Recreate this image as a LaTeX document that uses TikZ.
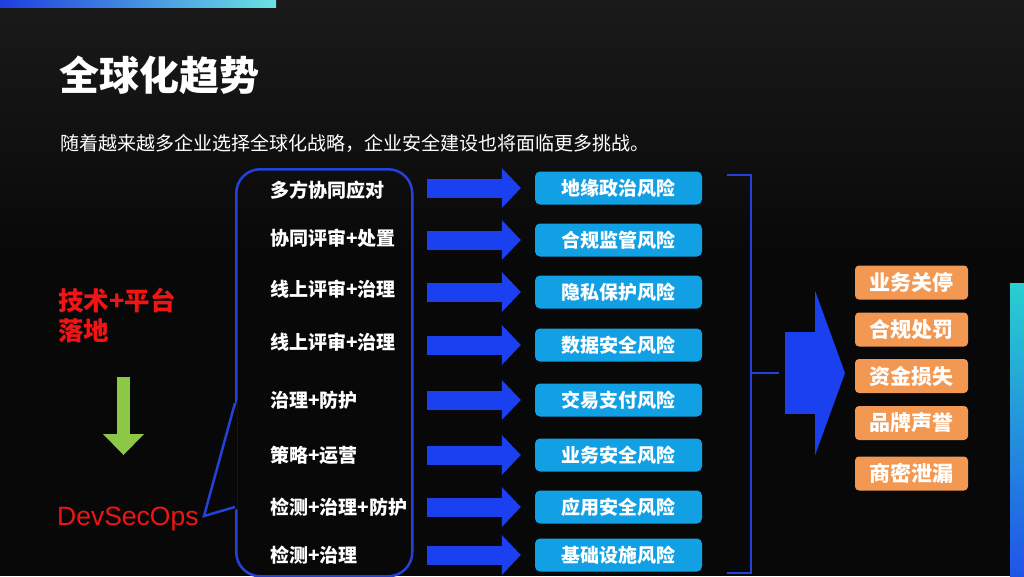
\documentclass[tikz,border=0pt]{standalone}
\usepackage{fontspec}
\setmainfont{Noto Sans CJK SC}
\newfontfamily\latinfont{Liberation Sans}
\usepackage{xcolor}
\usepackage{tikz}
\usetikzlibrary{positioning,arrows.meta}
\definecolor{bgdark}{RGB}{8,8,8}
\definecolor{bgtop}{RGB}{26,26,26}
\definecolor{barblue}{RGB}{30,62,225}
\definecolor{barcyan}{RGB}{108,226,226}
\definecolor{arrblue}{RGB}{26,64,240}
\definecolor{lineblue}{RGB}{36,66,215}
\definecolor{riskc}{RGB}{18,160,228}
\definecolor{lossc}{RGB}{242,152,82}
\definecolor{redtxt}{RGB}{240,20,20}
\definecolor{greenarr}{RGB}{140,200,70}
\definecolor{sidecyan}{RGB}{40,208,208}
\definecolor{sideblue}{RGB}{32,84,232}
\newcommand{\fs}[1]{\fontsize{#1}{#1}\selectfont}
\tikzset{
  riskbox/.style={fill=riskc,rounded corners=5pt,minimum width=167pt,minimum height=33pt,text=white,font=\fs{19}\bfseries,inner sep=0pt},
  lossbox/.style={fill=lossc,rounded corners=4pt,minimum width=113pt,minimum height=34pt,text=white,font=\fs{21}\bfseries,inner sep=0pt},
  bigar/.style={-{Triangle[length=30pt,width=165pt,line width=0pt]},line width=82pt,arrblue},
  garrow/.style={-{Triangle[length=21pt,width=41pt,line width=0pt]},line width=13pt,greenarr},
  brk/.style={lineblue,line width=1.2pt},
}

\begin{document}
\begin{tikzpicture}[x=1pt,y=-1pt,
  itm/.style={anchor=west,text=white,font=\fs{19}\bfseries,inner sep=0pt},
  ar/.style={-{Triangle[length=19pt,width=40pt,line width=0pt]},line width=19pt,arrblue}]
  \useasboundingbox (0,0) rectangle (1024,576);
  \fill[bgdark] (0,0) rectangle (1024,576);
  \shade[top color=bgtop,bottom color=bgdark] (0,0) rectangle (1024,260);
  \shade[left color=barblue,right color=barcyan] (0,0) rectangle (276,7);
  \shade[top color=sidecyan,bottom color=sideblue] (1010,283) rectangle (1024,576);
  % heading
  \node[anchor=west,text=white,font=\fs{40}\bfseries,inner sep=0pt] (title) at (59,75.5) {全球化趋势};
  \node[anchor=west,text=white,font=\fs{19},inner sep=0pt] (sub) at (60,143.5)
    {随着越来越多企业选择全球化战略，企业安全建设也将面临更多挑战。};
  % left column
  \node[anchor=west,align=left,text=redtxt,font=\fontsize{25.5}{30}\selectfont\bfseries,inner sep=0pt] (tech) at (58,315.5) {技术+平台\\落地};
  \coordinate (ga) at (123.5,377);
  \coordinate (gb) at (123.5,455);
  \draw[garrow] (ga) -- (gb);
  \node[anchor=west,text=redtxt,font=\latinfont\fs{26.5},inner sep=0pt] (devs) at (57,519) {DevSecOps};
  % speech bubble
  \node[draw=lineblue,line width=2.5pt,rounded corners=24pt,minimum width=176pt,minimum height=407pt,
    anchor=north west,inner sep=0pt] (bub) at (235,168) {};
  \fill[bgdark] (237.5,400) -- (202,516) -- (237.5,509) -- cycle;
  \draw[lineblue,line width=2.5pt] (235,403) -- (204,516) -- (235,507);
  \node[itm] (p1) at (270,190) {多方协同应对};
  \node[itm] (p2) at (270,238.5) {协同评审+处置};
  \node[itm] (p3) at (270,289.5) {线上评审+治理};
  \node[itm] (p4) at (270,342) {线上评审+治理};
  \node[itm] (p5) at (270,400) {治理+防护};
  \node[itm] (p6) at (270,455) {策略+运营};
  \node[itm] (p7) at (270,507) {检测+治理+防护};
  \node[itm] (p8) at (270,555.5) {检测+治理};
  % risks
  \node[riskbox] (r1) at (618.5,188) {地缘政治风险};
  \node[riskbox] (r2) at (618.5,240) {合规监管风险};
  \node[riskbox] (r3) at (618.5,292) {隐私保护风险};
  \node[riskbox] (r4) at (618.5,345) {数据安全风险};
  \node[riskbox] (r5) at (618.5,400) {交易支付风险};
  \node[riskbox] (r6) at (618.5,455) {业务安全风险};
  \node[riskbox] (r7) at (618.5,507) {应用安全风险};
  \node[riskbox] (r8) at (618.5,555) {基础设施风险};
  \draw[ar] ([xshift=-108pt]r1.west) -- ([xshift=-14pt]r1.west);
  \draw[ar] ([xshift=-108pt]r2.west) -- ([xshift=-14pt]r2.west);
  \draw[ar] ([xshift=-108pt]r3.west) -- ([xshift=-14pt]r3.west);
  \draw[ar] ([xshift=-108pt]r4.west) -- ([xshift=-14pt]r4.west);
  \draw[ar] ([xshift=-108pt]r5.west) -- ([xshift=-14pt]r5.west);
  \draw[ar] ([xshift=-108pt]r6.west) -- ([xshift=-14pt]r6.west);
  \draw[ar] ([xshift=-108pt]r7.west) -- ([xshift=-14pt]r7.west);
  \draw[ar] ([xshift=-108pt]r8.west) -- ([xshift=-14pt]r8.west);
  % bracket and result arrow
  \coordinate (bt) at (727,175);
  \coordinate (bb) at (727,573);
  \coordinate (bm) at (751,373);
  \draw[brk] (bt) -- ++(24,0) -- ++(0,398) -- (bb);
  \draw[brk] (bm) -- ++(28,0);
  \draw[bigar] ([xshift=34pt]bm) -- ([xshift=94pt]bm);
  % consequences
  \node[lossbox] (l1) at (911.5,282.5) {业务关停};
  \node[lossbox] (l2) at (911.5,329.5) {合规处罚};
  \node[lossbox] (l3) at (911.5,376) {资金损失};
  \node[lossbox] (l4) at (911.5,423) {品牌声誉};
  \node[lossbox] (l5) at (911.5,473.5) {商密泄漏};
\end{tikzpicture}
\end{document}
